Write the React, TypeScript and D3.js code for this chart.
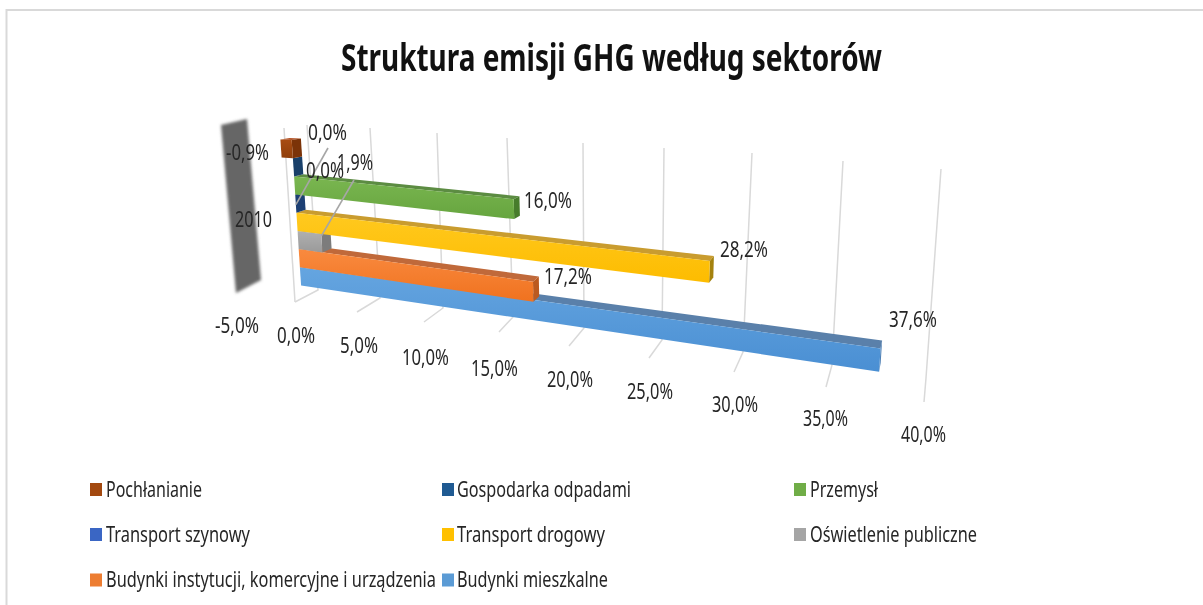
import React from "react";
import * as d3 from "d3";

// ---------- data ----------
const titleText = "Struktura emisji GHG według sektorów";
const categoryLabel = "2010";
const seriesNames = [
  "Budynki mieszkalne",
  "Budynki instytucji, komercyjne i urządzenia",
  "Oświetlenie publiczne",
  "Transport drogowy",
  "Transport szynowy",
  "Przemysł",
  "Gospodarka odpadami",
  "Pochłanianie",
];
const seriesValues = [37.6, 17.2, 1.9, 28.2, 0.0, 16.0, 0.0, -0.9];
const valueLabels = ["37,6%", "17,2%", "1,9%", "28,2%", "0,0%", "16,0%", "0,0%", "-0,9%"];
const gridTicks = [0, 5, 10, 15, 20, 25, 30, 35, 40];
const tickLabels = ["-5,0%", "0,0%", "5,0%", "10,0%", "15,0%", "20,0%", "25,0%", "30,0%", "35,0%", "40,0%"];

// ---------- styles ----------
const faceTop = ["#65a5e0", "#f98a3f", "#b0b0b0", "#ffc91f", "#2a5aa0", "#7ab650", "#235888", "#a84c12"];
const faceBottom = ["#4a8fd3", "#f0721f", "#9a9a9a", "#fdbc00", "#204c8c", "#66a53f", "#1d4a78", "#8f3e0a"];
const topFaceColors = ["#5a80aa", "#c0693a", "#8c8c8c", "#c99c2f", "#2c4f80", "#5c8c42", "#254f78", "#b5562a"];
const sideFaceColors = ["#4f80b4", "#bb5a20", "#7c7c7c", "#a4820f", "#1d4074", "#477c2b", "#19406a", "#7b3308"];
const legendColors = ["#5b9bd5", "#ed7d31", "#a5a5a5", "#ffc000", "#3a66c4", "#70ad47", "#1f5a92", "#a3490f"];

// ---------- projection calibration ----------
const backX = [318, 380, 443, 513, 584, 662, 743, 832, 926];
const backY = [290, 298, 308, 317, 328, 340, 352, 365, 378];
const topX = [307, 370, 437, 507, 583, 664, 752, 843, 941];
const topY = [125, 128, 133, 138, 143, 148, 153, 161, 169];
const frontX = [295, 357, 424, 499, 569, 649, 734, 826, 924];
const frontY = [302, 312, 322, 332, 346, 358, 372, 387, 402];

const sB = { x: d3.scaleLinear().domain(gridTicks).range(backX), y: d3.scaleLinear().domain(gridTicks).range(backY) };
const sT = { x: d3.scaleLinear().domain(gridTicks).range(topX), y: d3.scaleLinear().domain(gridTicks).range(topY) };
const sF = { x: d3.scaleLinear().domain(gridTicks).range(frontX), y: d3.scaleLinear().domain(gridTicks).range(frontY) };
// bars sit slightly lower than the gridlines suggest around the middle of the axis
const barSag = d3.scaleLinear().domain([-5, 0, 15, 30, 37.6, 40]).range([0, 0, 3.2, 3, 0.5, 0]);

type Pt = [number, number];
const lerp = (a: number, b: number, t: number) => a + (b - a) * t;
// v: value, h: fraction up the wall, d: fraction from the back wall toward the viewer
const project = (v: number, h: number, d: number): Pt => {
  const bx = sB.x(v), by = sB.y(v), tx = sT.x(v), ty = sT.y(v), fx = sF.x(v), fy = sF.y(v);
  const ftx = tx + (fx - bx);
  const fty = ty + (fy - by) * 0.25;
  const rearX = lerp(bx, tx, h), rearY = lerp(by, ty, h);
  const foreX = lerp(fx, ftx, h), foreY = lerp(fy, fty, h);
  return [lerp(rearX, foreX, d), lerp(rearY, foreY, d) + barSag(v)];
};
const bandStart = 0.076;
const bandStep = 0.106;
const dFront = 0.7;
const dBack = 0.3;
const poly = (pts: Pt[]) => pts.map((p) => p.map((n) => n.toFixed(1)).join(",")).join(" ");

// label anchors
const valueLabelBox = [
  [889, 327, 48], [544, 284, 48], [337, 170, 36], [720, 257, 48],
  [308, 140, 39], [524, 208, 48], [306, 178, 38], [226, 160, 43],
];
const tickLabelBox = [
  [215, 333, 44], [277, 343, 38], [340, 353, 38], [402, 365, 47], [471, 376, 47],
  [547, 387, 46], [627, 399, 46], [712, 412, 46], [803, 426, 45], [901, 442, 45],
];
const leaderFrom: Record<number, Pt> = { 4: [328, 148], 2: [354, 180] };
const legendOrder = [7, 6, 5, 4, 3, 2, 1, 0];
const legendCols = [90, 442, 794];
const legendTextCols = [106, 457, 810];
const legendRows = [496.5, 541.5, 587];
const legendWidths = [96, 174, 68, 144, 148, 167, 330, 151];
const wall: Pt[] = [[221, 125], [247, 119], [261, 280], [236, 293]];

const labelFont = "'Noto Sans', 'Open Sans', sans-serif";

export default function App() {
  const textStyle = { fontFamily: labelFont, fontSize: 21, fill: "#262626" } as const;
  return (
    <svg
      width={1203}
      height={605}
      viewBox="0 0 1203 605"
      style={{ position: "fixed", left: 0, top: 0, background: "#fff", filter: "blur(0.6px)" }}
    >
      <defs>
        {seriesNames.map((_, i) => (
          <linearGradient key={i} id={`g${i}`} x1="0" y1="0" x2="0" y2="1">
            <stop offset="0" stopColor={faceTop[i]} />
            <stop offset="1" stopColor={faceBottom[i]} />
          </linearGradient>
        ))}
        <filter id="soft" x="-20%" y="-20%" width="140%" height="140%">
          <feGaussianBlur stdDeviation="1.5" />
        </filter>
      </defs>

      {/* chart frame */}
      <path d="M1203 10 H6.5 V605" fill="none" stroke="#d9d9d9" strokeWidth={2} />

      {/* category plane */}
      <polygon points={poly(wall)} fill="#666" filter="url(#soft)" />

      {/* gridlines */}
      <g fill="none" stroke="#d9d9d9" strokeWidth={1.5}>
        {gridTicks.map((t) => (
          <polyline
            key={t}
            points={poly([
              [sF.x(t), sF.y(t)],
              [sB.x(t), sB.y(t)],
              [sT.x(t), sT.y(t)],
            ])}
          />
        ))}
        <polyline points={poly([[sF.x(0), sF.y(0)], [sT.x(0) + sF.x(0) - sB.x(0), sT.y(0) + (sF.y(0) - sB.y(0)) * 0.25]])} />
      </g>

      {/* bars, bottom to top */}
      {seriesValues.map((v, i) => {
        const h0 = bandStart + i * bandStep;
        const h1 = h0 + bandStep;
        const topFace = poly([project(0, h1, dFront), project(v, h1, dFront), project(v, h1, dBack), project(0, h1, dBack)]);
        const side = poly([project(Math.max(v, 0), h1, dFront), project(Math.max(v, 0), h1, dBack), project(Math.max(v, 0), h0, dBack), project(Math.max(v, 0), h0, dFront)]);
        const front = poly([project(0, h1, dFront), project(v, h1, dFront), project(v, h0, dFront), project(0, h0, dFront)]);
        return (
          <g key={seriesNames[i]}>
            <polygon points={topFace} fill={topFaceColors[i]} />
            <polygon points={side} fill={sideFaceColors[i]} />
            <polygon points={front} fill={`url(#g${i})`} />
          </g>
        );
      })}

      {/* leader lines */}
      <g stroke="#a6a6a6" strokeWidth={1.6} fill="none">
        {Object.keys(leaderFrom).map((key) => {
          const i = +key;
          const end = project(seriesValues[i], bandStart + (i + (i === 2 ? 0.9 : 0.45)) * bandStep, dFront);
          return <line key={i} x1={leaderFrom[i][0]} y1={leaderFrom[i][1]} x2={end[0]} y2={end[1]} />;
        })}
      </g>

      {/* title */}
      <text
        x={341}
        y={71}
        textLength={541}
        lengthAdjust="spacingAndGlyphs"
        style={{ fontFamily: labelFont, fontSize: 37, fontWeight: 700, fill: "#111" }}
      >
        {titleText}
      </text>

      {/* data labels */}
      {valueLabels.map((label, i) => (
        <text key={i} x={valueLabelBox[i][0]} y={valueLabelBox[i][1]} textLength={valueLabelBox[i][2]} lengthAdjust="spacingAndGlyphs" style={textStyle}>
          {label}
        </text>
      ))}
      <text x={235} y={227} textLength={37} lengthAdjust="spacingAndGlyphs" style={textStyle}>
        {categoryLabel}
      </text>

      {/* value axis labels */}
      {tickLabels.map((label, i) => (
        <text key={label} x={tickLabelBox[i][0]} y={tickLabelBox[i][1]} textLength={tickLabelBox[i][2]} lengthAdjust="spacingAndGlyphs" style={textStyle}>
          {label}
        </text>
      ))}

      {/* legend */}
      {legendOrder.map((s, k) => {
        const col = k % 3;
        const row = Math.floor(k / 3);
        return (
          <g key={s}>
            <rect x={legendCols[col]} y={legendRows[row] - 13.5} width={12} height={13} fill={legendColors[s]} />
            <text x={legendTextCols[col]} y={legendRows[row]} textLength={legendWidths[k]} lengthAdjust="spacingAndGlyphs" style={textStyle}>
              {seriesNames[s]}
            </text>
          </g>
        );
      })}
    </svg>
  );
}
